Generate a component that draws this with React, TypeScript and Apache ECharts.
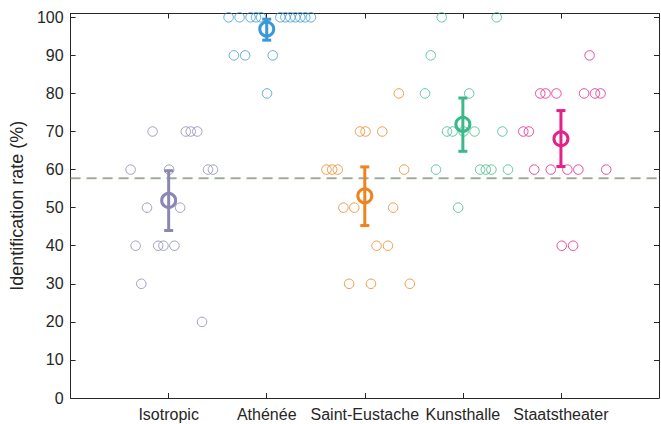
import React, { useEffect, useRef } from "react";
import * as echarts from "echarts";

const categories = ["Isotropic", "Athénée", "Saint-Eustache", "Kunsthalle", "Staatstheater"];
const meanColors = ["#8a88b2", "#3b98d6", "#ee8420", "#3cb98a", "#e4208a"];

const isotropicValues = [70, 70, 70, 70, 60, 60, 60, 60, 50, 50, 40, 40, 40, 40, 30, 20];
const isotropicJitter = [-0.164, 0.175, 0.225, 0.292, -0.388, 0.005, 0.401, 0.452, -0.221, 0.117, -0.337, -0.107, -0.053, 0.059, -0.279, 0.34];

const atheneeValues = [100, 100, 100, 100, 100, 100, 100, 100, 100, 100, 100, 100, 90, 90, 90, 80];
const atheneeJitter = [-0.389, -0.277, -0.165, -0.109, -0.058, 0.139, 0.19, 0.241, 0.291, 0.342, 0.393, 0.45, -0.335, -0.22, 0.061, 0.003];

const saintEustacheValues = [80, 70, 70, 70, 60, 60, 60, 60, 50, 50, 50, 40, 40, 30, 30, 30];
const saintEustacheJitter = [0.347, -0.049, 0.008, 0.178, -0.391, -0.333, -0.276, 0.401, -0.218, -0.107, 0.289, 0.12, 0.236, -0.16, 0.063, 0.459];

const kunsthalleValues = [100, 100, 90, 80, 80, 70, 70, 70, 70, 70, 60, 60, 60, 60, 60, 50];
const kunsthalleJitter = [-0.216, 0.345, -0.328, -0.386, 0.064, -0.162, -0.105, 0.007, 0.119, 0.403, -0.274, 0.176, 0.234, 0.291, 0.46, -0.048];

const staatstheaterValues = [90, 80, 80, 80, 80, 80, 80, 70, 70, 60, 60, 60, 60, 60, 40, 40];
const staatstheaterJitter = [0.292, -0.211, -0.157, -0.046, 0.236, 0.347, 0.404, -0.384, -0.327, -0.272, -0.104, 0.066, 0.178, 0.462, 0.008, 0.124];

const allValues = [isotropicValues, atheneeValues, saintEustacheValues, kunsthalleValues, staatstheaterValues];
const allJitter = [isotropicJitter, atheneeJitter, saintEustacheJitter, kunsthalleJitter, staatstheaterJitter];

const means = [51.9, 96.9, 53.1, 71.9, 68.1];
const ciLow = [44.0, 94.0, 45.3, 64.8, 60.8];
const ciHigh = [59.7, 99.5, 60.7, 78.8, 75.5];

const chanceLevel = 57.8;
const yTicks = [0, 10, 20, 30, 40, 50, 60, 70, 80, 90, 100];
const xTicks = [1, 2, 3, 4, 5];

const FONT = "'Liberation Sans', Arial, Helvetica, sans-serif";
const AXIS = "#262626";

export default function App() {
  const ref = useRef<HTMLDivElement>(null);
  useEffect(() => {
    if (!ref.current) return;
    const chart = echarts.init(ref.current, undefined, { renderer: "svg" });

    const pointSeries = allValues.map((vals, i) => ({
      type: "scatter",
      xAxisIndex: 0,
      yAxisIndex: 0,
      symbol: "circle",
      symbolSize: 9.5,
      silent: true,
      z: 3,
      itemStyle: { color: "rgba(255,255,255,0)", borderColor: meanColors[i], borderWidth: 1, opacity: 0.8 },
      data: vals.map((v, j) => [i + 1 + allJitter[i][j], v]),
    }));

    const errData = means.map((m, i) => [i + 1, m, ciLow[i], ciHigh[i], i]);

    const option: any = {
      animation: false,
      backgroundColor: "#ffffff",
      textStyle: { fontFamily: FONT },
      grid: { left: 67, right: 2, top: 13.5, bottom: 26, containLabel: false },
      xAxis: [
        {
          type: "value",
          min: 0,
          max: 6,
          interval: 1,
          position: "bottom",
          axisLine: { show: true, onZero: false, lineStyle: { color: AXIS, width: 1 } },
          axisTick: { show: true, inside: true, length: 5, customValues: xTicks, lineStyle: { color: AXIS } },
          axisLabel: {
            customValues: xTicks,
            formatter: (v: number) => categories[v - 1] ?? "",
            color: AXIS,
            fontSize: 16,
            fontFamily: FONT,
            margin: 8,
          },
          splitLine: { show: false },
        },
        {
          type: "value",
          min: 0,
          max: 6,
          interval: 1,
          position: "top",
          axisLine: { show: true, onZero: false, lineStyle: { color: AXIS, width: 1 } },
          axisTick: { show: true, inside: true, length: 5, customValues: xTicks, lineStyle: { color: AXIS } },
          axisLabel: { show: false },
          splitLine: { show: false },
        },
      ],
      yAxis: [
        {
          type: "value",
          min: 0,
          max: 101,
          interval: 10,
          position: "left",
          name: "Identification rate (%)",
          nameLocation: "middle",
          nameGap: 36,
          nameTextStyle: { color: AXIS, fontSize: 18, fontFamily: FONT },
          axisLine: { show: true, onZero: false, lineStyle: { color: AXIS, width: 1 } },
          axisTick: { show: true, inside: true, length: 5, customValues: yTicks, lineStyle: { color: AXIS } },
          axisLabel: { customValues: yTicks, color: AXIS, fontSize: 16, fontFamily: FONT, margin: 7 },
          splitLine: { show: false },
        },
        {
          type: "value",
          min: 0,
          max: 101,
          interval: 10,
          position: "right",
          axisLine: { show: true, onZero: false, lineStyle: { color: AXIS, width: 1 } },
          axisTick: { show: true, inside: true, length: 5, customValues: yTicks, lineStyle: { color: AXIS } },
          axisLabel: { show: false },
          splitLine: { show: false },
        },
      ],
      series: [
        {
          type: "line",
          xAxisIndex: 0,
          yAxisIndex: 0,
          symbol: "none",
          silent: true,
          z: 1,
          lineStyle: { color: "#6fa86f", width: 0.8, type: [10, 6] },
          data: [
            [0, chanceLevel - 0.2],
            [6, chanceLevel - 0.2],
          ],
        },
        {
          type: "line",
          xAxisIndex: 0,
          yAxisIndex: 0,
          symbol: "none",
          silent: true,
          z: 2,
          lineStyle: { color: "#8a8a8a", width: 1, type: [10, 6] },
          data: [
            [0, chanceLevel],
            [6, chanceLevel],
          ],
        },
        ...pointSeries,
        {
          type: "custom",
          xAxisIndex: 0,
          yAxisIndex: 0,
          silent: true,
          z: 5,
          data: errData,
          renderItem: (params: any, api: any) => {
            const x = api.value(0);
            const p = api.coord([x, api.value(1)]);
            const lo = api.coord([x, api.value(2)]);
            const hi = api.coord([x, api.value(3)]);
            const color = meanColors[api.value(4)];
            const st = { stroke: color, lineWidth: 3, fill: "none" };
            const cap = 4.5;
            return {
              type: "group",
              children: [
                { type: "line", shape: { x1: p[0], y1: lo[1], x2: p[0], y2: hi[1] }, style: st },
                { type: "line", shape: { x1: p[0] - cap, y1: lo[1], x2: p[0] + cap, y2: lo[1] }, style: st },
                { type: "line", shape: { x1: p[0] - cap, y1: hi[1], x2: p[0] + cap, y2: hi[1] }, style: st },
                { type: "circle", shape: { cx: p[0], cy: p[1], r: 7 }, style: st },
              ],
            };
          },
        },
      ],
    };
    chart.setOption(option);
    return () => chart.dispose();
  }, []);
  return <div ref={ref} style={{ width: 661, height: 424, position: "absolute", left: 0, top: 0 }} />;
}
